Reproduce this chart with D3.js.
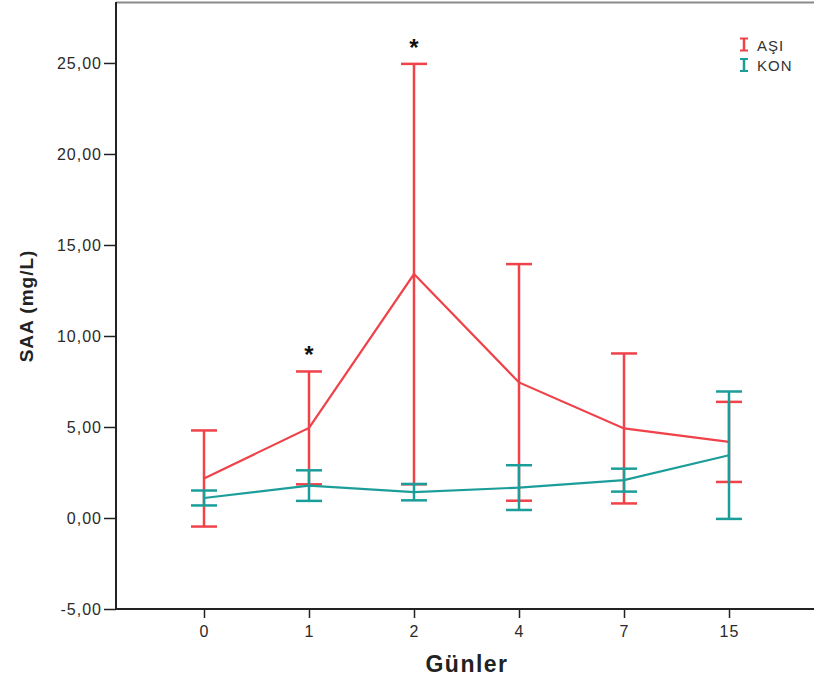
<!DOCTYPE html>
<html>
<head>
<meta charset="utf-8">
<script src="https://cdn.jsdelivr.net/npm/d3@7/dist/d3.min.js"></script>
<style>
  html, body { margin: 0; padding: 0; background: #fff; }
  svg { display: block; }
</style>
</head>
<body>
<svg id="chart" width="814" height="681"></svg>
<script>
// Days of follow-up
const days = ["0", "1", "2", "4", "7", "15"];

// SAA (mg/L) group means and error-bar half widths
const asiMean = [2.17, 4.95, 13.40, 7.45, 4.92, 4.18];
const asiErr  = [2.64, 3.10, 11.55, 6.50, 4.12, 2.20];
const konMean = [1.10, 1.78, 1.42, 1.67, 2.08, 3.45];
const konErr  = [0.41, 0.84, 0.45, 1.23, 0.63, 3.50];

// Days marked as significant
const starDays = ["1", "2"];

const yTicks = [-5, 0, 5, 10, 15, 20, 25];

const series = [
  { name: "AŞI", color: "#ef4249", mean: asiMean, err: asiErr },
  { name: "KON", color: "#1b9e9a", mean: konMean, err: konErr }
];

const svg = d3.select("#chart");
const margin = { left: 116, top: 2, bottom: 72 };
const W = 814, H = 681;

const x = d3.scalePoint().domain(days)
  .range([margin.left, 817]).padding(0.838);
const y = d3.scaleLinear().domain([-5, 28.35])
  .range([H - margin.bottom, margin.top]);

const fmt = d => d3.format(".2f")(d).replace(".", ",").replace("−", "-");
const font = "'Liberation Sans', Arial, sans-serif";

// frame top
svg.append("line")
  .attr("x1", margin.left).attr("x2", W)
  .attr("y1", margin.top + 0.5).attr("y2", margin.top + 0.5)
  .attr("stroke", "#8a8a8a").attr("stroke-width", 2);

// axes
const yAxis = svg.append("g")
  .attr("transform", `translate(${margin.left},0)`)
  .call(d3.axisLeft(y).tickValues(yTicks).tickFormat(fmt).tickSize(12).tickSizeOuter(0));
const xAxis = svg.append("g")
  .attr("transform", `translate(0,${H - margin.bottom})`)
  .call(d3.axisBottom(x).tickSize(9).tickSizeOuter(0));

[yAxis, xAxis].forEach(g => {
  g.select(".domain").attr("stroke", "#222").attr("stroke-width", 2);
  g.selectAll(".tick line").attr("stroke", "#222").attr("stroke-width", 1.5);
  g.selectAll(".tick text")
    .attr("fill", "#2a2a2a")
    .style("font-family", font)
    .style("font-size", "16px")
    .style("letter-spacing", "1px");
});
yAxis.selectAll(".tick text").attr("x", -14);
xAxis.selectAll(".tick text").attr("y", 17);
// bottom axis runs to the right edge
xAxis.select(".domain").attr("d", `M${margin.left},0H${W}`);
yAxis.select(".domain").attr("d", `M0,${margin.top}V${H - margin.bottom}`);

// axis titles
svg.append("text")
  .attr("x", 467).attr("y", 672)
  .attr("text-anchor", "middle")
  .style("font-family", font)
  .style("font-weight", "bold").style("font-size", "23px")
  .style("letter-spacing", "1.5px")
  .attr("fill", "#222")
  .text("Günler");
svg.append("text")
  .attr("transform", "translate(33,306) rotate(-90)")
  .attr("text-anchor", "middle")
  .style("font-family", font)
  .style("font-weight", "bold").style("font-size", "19px")
  .style("letter-spacing", "1px")
  .attr("fill", "#222")
  .text("SAA (mg/L)");

const capHalf = 13;
const line = d3.line().x(d => x(d.day)).y(d => y(d.mean));

series.forEach(s => {
  const pts = days.map((d, i) => ({ day: d, mean: s.mean[i], err: s.err[i] }));
  const g = svg.append("g");
  // error bars
  pts.forEach(p => {
    const cx = x(p.day), top = y(p.mean + p.err), bot = y(p.mean - p.err);
    g.append("line").attr("x1", cx).attr("x2", cx).attr("y1", top).attr("y2", bot)
      .attr("stroke", s.color).attr("stroke-width", 2.5);
    [top, bot].forEach(yy => g.append("line")
      .attr("x1", cx - capHalf).attr("x2", cx + capHalf).attr("y1", yy).attr("y2", yy)
      .attr("stroke", s.color).attr("stroke-width", 2.5));
  });
  g.append("path").datum(pts).attr("d", line)
    .attr("fill", "none").attr("stroke", s.color).attr("stroke-width", 2.2);
});

// significance markers
starDays.forEach(d => {
  const i = days.indexOf(d);
  svg.append("text")
    .attr("x", x(d)).attr("y", y(asiMean[i] + asiErr[i]) - 8)
    .attr("text-anchor", "middle")
    .style("font-family", font)
    .style("font-weight", "bold")
    .style("font-size", "24px").attr("fill", "#111")
    .text("*");
});

// legend
const lg = svg.append("g").attr("transform", "translate(744,44.5)");
series.forEach((s, i) => {
  const gy = i * 20.5;
  const li = lg.append("g").attr("transform", `translate(0,${gy})`);
  li.append("line").attr("x1", 0).attr("x2", 0).attr("y1", -6).attr("y2", 6)
    .attr("stroke", s.color).attr("stroke-width", 2.5);
  [-6, 6].forEach(v => li.append("line").attr("x1", -4).attr("x2", 4).attr("y1", v).attr("y2", v)
    .attr("stroke", s.color).attr("stroke-width", 2));
  li.append("text").attr("x", 13).attr("y", 6)
    .style("font-family", font)
    .style("font-size", "15px").style("letter-spacing", "1px").attr("fill", "#333")
    .text(s.name);
});
</script>
</body>
</html>
